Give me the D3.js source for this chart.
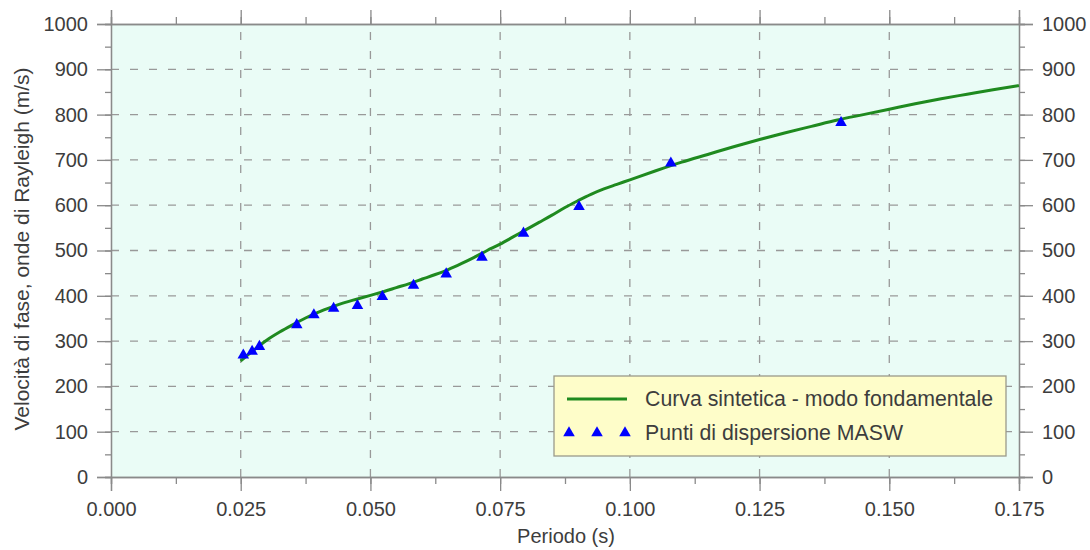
<!DOCTYPE html>
<html>
<head>
<meta charset="utf-8">
<script src="https://cdn.jsdelivr.net/npm/d3@7"></script>
<style>
  html, body { margin: 0; padding: 0; background: #ffffff; }
  svg { display: block; font-family: "Liberation Sans", Arial, Helvetica, sans-serif; }
</style>
</head>
<body>
<svg id="chart" width="1090" height="550"></svg>
<script>
// ---- Data ----
const curvePeriods = [0.025, 0.0275, 0.030, 0.0325, 0.035, 0.0375, 0.040, 0.0425, 0.045, 0.0475,
  0.050, 0.0525, 0.055, 0.0575, 0.060, 0.0625, 0.065, 0.0675, 0.070, 0.0725,
  0.075, 0.0775, 0.080, 0.0825, 0.085, 0.0875, 0.090, 0.0925, 0.095, 0.0975,
  0.100, 0.105, 0.110, 0.115, 0.120, 0.125, 0.130, 0.135, 0.140, 0.145,
  0.150, 0.155, 0.160, 0.165, 0.170, 0.175];
const curveVelocities = [256, 280, 302, 320, 336, 351, 364, 375, 385, 393,
  401, 409, 418, 427, 437, 447, 458, 471, 485, 500,
  514, 530, 546, 562, 578, 595, 610, 624, 636, 646,
  656, 676, 695, 712, 729, 745, 760, 774, 788, 800,
  812, 824, 835, 845, 855, 864];
const maswPeriods = [0.0255, 0.0272, 0.0286, 0.0358, 0.0391, 0.0429, 0.0475, 0.0523,
  0.0583, 0.0646, 0.0715, 0.0795, 0.0902, 0.1079, 0.1407];
const maswVelocities = [269, 277, 288, 336, 358, 372, 378, 398,
  423, 448, 485, 538, 597, 693, 782];
const xTicks = [0, 0.025, 0.05, 0.075, 0.1, 0.125, 0.15, 0.175];
const yTicks = [0, 100, 200, 300, 400, 500, 600, 700, 800, 900, 1000];
const xLabel = "Periodo (s)";
const yLabel = "Velocità di fase, onde di Rayleigh (m/s)";
const legendLabels = ["Curva sintetica - modo fondamentale", "Punti di dispersione MASW"];

// ---- Layout ----
const svg = d3.select("#chart");
const m = { left: 111, top: 24, right: 1019, bottom: 477 };
const x = d3.scaleLinear().domain([0, 0.175]).range([m.left, m.right]);
const y = d3.scaleLinear().domain([0, 1000]).range([m.bottom, m.top]);

const axisColor = "#8a8a8a";
const textColor = "#3d3d3d";

// plot background
svg.append("rect")
  .attr("x", m.left).attr("y", m.top)
  .attr("width", m.right - m.left).attr("height", m.bottom - m.top)
  .attr("fill", "#eafcf6");

// grid
const grid = svg.append("g").attr("stroke", "#999999").attr("stroke-width", 1.3)
  .attr("stroke-dasharray", "8,11");
grid.selectAll("line.v").data(xTicks.slice(1, -1)).enter().append("line")
  .attr("x1", d => x(d)).attr("x2", d => x(d))
  .attr("y1", m.bottom).attr("y2", m.top);
grid.selectAll("line.h").data(yTicks.slice(1, -1)).enter().append("line")
  .attr("x1", m.left).attr("x2", m.right)
  .attr("y1", d => y(d)).attr("y2", d => y(d));

// axes
const xMinor = d3.range(0, 0.1751, 0.0125);
const yMinor = d3.range(0, 1001, 50);

function styleAxis(g) {
  g.select(".domain").attr("stroke", axisColor).attr("stroke-width", 1.3);
  g.selectAll(".tick line").attr("stroke", axisColor).attr("stroke-width", 1.3);
  g.selectAll(".tick text").attr("fill", textColor).style("font-size", "20px");
}

// minor ticks
svg.append("g").attr("transform", `translate(0,${m.bottom})`)
  .call(d3.axisBottom(x).tickValues(xMinor).tickSize(7).tickFormat(""))
  .call(styleAxis);
svg.append("g").attr("transform", `translate(0,${m.top})`)
  .call(d3.axisTop(x).tickValues(xMinor).tickSize(7).tickFormat(""))
  .call(styleAxis);
svg.append("g").attr("transform", `translate(${m.left},0)`)
  .call(d3.axisLeft(y).tickValues(yMinor).tickSize(6).tickFormat(""))
  .call(styleAxis);
svg.append("g").attr("transform", `translate(${m.right},0)`)
  .call(d3.axisRight(y).tickValues(yMinor).tickSize(6).tickFormat(""))
  .call(styleAxis);

// major ticks
svg.append("g").attr("transform", `translate(0,${m.bottom})`)
  .call(d3.axisBottom(x).tickValues(xTicks).tickSize(14).tickPadding(11).tickFormat(d3.format(".3f")))
  .call(styleAxis);
svg.append("g").attr("transform", `translate(0,${m.top})`)
  .call(d3.axisTop(x).tickValues(xTicks).tickSize(14).tickFormat(""))
  .call(styleAxis);
svg.append("g").attr("transform", `translate(${m.left},0)`)
  .call(d3.axisLeft(y).tickValues(yTicks).tickSize(14).tickPadding(9).tickFormat(d3.format("d")))
  .call(styleAxis);
svg.append("g").attr("transform", `translate(${m.right},0)`)
  .call(d3.axisRight(y).tickValues(yTicks).tickSize(14).tickPadding(9).tickFormat(d3.format("d")))
  .call(styleAxis);

// axis titles
svg.append("text")
  .attr("x", 566).attr("y", 543)
  .attr("text-anchor", "middle").attr("fill", textColor)
  .style("font-size", "20px").text(xLabel);
svg.append("text")
  .attr("transform", `translate(29,249) rotate(-90)`)
  .attr("text-anchor", "middle").attr("fill", textColor)
  .style("font-size", "21px").text(yLabel);

// curve
const curveData = curvePeriods.map((p, i) => [p, curveVelocities[i]]);
svg.append("path")
  .datum(curveData)
  .attr("fill", "none").attr("stroke", "#1f8a1f").attr("stroke-width", 3)
  .attr("d", d3.line().x(d => x(d[0])).y(d => y(d[1])).curve(d3.curveMonotoneX));

// markers
const tri = d3.symbol().type(d3.symbolTriangle).size(58);
svg.append("g").selectAll("path").data(maswPeriods.map((p, i) => [p, maswVelocities[i]]))
  .enter().append("path")
  .attr("d", tri)
  .attr("transform", d => `translate(${x(d[0])},${y(d[1])})`)
  .attr("fill", "#0000ff");

// legend
const lg = svg.append("g");
lg.append("rect").attr("x", 554).attr("y", 376).attr("width", 452).attr("height", 80)
  .attr("fill", "#fefdc9").attr("stroke", "#9a9a8a").attr("stroke-width", 1.3);
lg.append("line").attr("x1", 567).attr("x2", 627).attr("y1", 399).attr("y2", 399)
  .attr("stroke", "#1f8a1f").attr("stroke-width", 3);
[569, 597, 625].forEach(cx => {
  lg.append("path").attr("d", tri).attr("transform", `translate(${cx},433)`).attr("fill", "#0000ff");
});
lg.append("text").attr("x", 645).attr("y", 406).attr("fill", textColor)
  .style("font-size", "21.3px").text(legendLabels[0]);
lg.append("text").attr("x", 645).attr("y", 440).attr("fill", textColor)
  .style("font-size", "21.3px").text(legendLabels[1]);
</script>
</body>
</html>
